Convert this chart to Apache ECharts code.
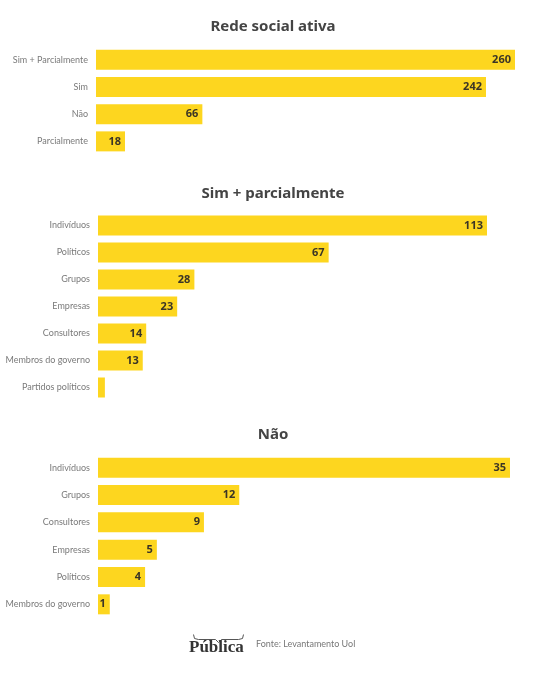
<!DOCTYPE html>
<html>
<head>
<meta charset="utf-8">
<script src="https://cdn.jsdelivr.net/npm/echarts@6/dist/echarts.min.js"></script>
<style>
  html, body { margin: 0; padding: 0; background: #fff; }
  #chart { width: 546px; height: 677px; }
</style>
</head>
<body>
<div id="chart"></div>
<script>
// dados
var redeCats = ['Sim + Parcialmente', 'Sim', 'Não', 'Parcialmente'];
var redeVals = [260, 242, 66, 18];

var simCats = ['Indivíduos', 'Políticos', 'Grupos', 'Empresas', 'Consultores', 'Membros do governo', 'Partidos políticos'];
var simVals = [113, 67, 28, 23, 14, 13, 2];

var naoCats = ['Indivíduos', 'Grupos', 'Consultores', 'Empresas', 'Políticos', 'Membros do governo'];
var naoVals = [35, 12, 9, 5, 4, 1];

var titulos = ['Rede social ativa', 'Sim + parcialmente', 'Não'];
var fonte = 'Fonte: Levantamento Uol';

var amarelo = '#fdd61f';
var fam = 'Noto Sans';

var chart = echarts.init(document.getElementById('chart'));

function eixoX(idx, max) {
    return {
        gridIndex: idx, type: 'value', min: 0, max: max,
        show: false, splitLine: { show: false }
    };
}
function eixoY(idx, cats) {
    return {
        gridIndex: idx, type: 'category', data: cats, inverse: true,
        axisLine: { show: false }, axisTick: { show: false },
        axisLabel: { color: '#7a7a7a', fontSize: 9, fontFamily: 'Lato', margin: 8 }
    };
}
function serie(idx, vals) {
    return {
        type: 'bar', xAxisIndex: idx, yAxisIndex: idx,
        barWidth: 20,
        itemStyle: { color: amarelo },
        label: {
            show: true, position: 'insideRight', distance: 4,
            color: '#3b3526', fontSize: 11, fontWeight: 'bold', fontFamily: fam,
            formatter: function (p) { return p.value >= 5 || idx === 2 ? p.value : ''; }
        },
        data: vals
    };
}

var option = {
    animation: false,
    title: titulos.map(function (t, i) {
        return {
            text: t, left: 'center', top: [14, 181, 422][i],
            textStyle: { fontSize: 15, fontWeight: 'bold', color: '#444', fontFamily: fam }
        };
    }),
    grid: [
        { left: 96, right: 31, top: 46, height: 109, outerBoundsMode: 'none' },
        { left: 98, right: 59, top: 212, height: 189, outerBoundsMode: 'none' },
        { left: 98, right: 36, top: 454, height: 164, outerBoundsMode: 'none' }
    ],
    xAxis: [eixoX(0, 260), eixoX(1, 113), eixoX(2, 35)],
    yAxis: [eixoY(0, redeCats), eixoY(1, simCats), eixoY(2, naoCats)],
    series: [serie(0, redeVals), serie(1, simVals), serie(2, naoVals)],
    graphic: [
        {
            type: 'polyline', left: 191, top: 632,
            shape: { points: [[0, 0], [1, 4], [5, 5], [22, 5], [25, 8], [28, 5], [45, 5], [49, 4], [50, 0]] },
            style: { fill: null, stroke: '#555', lineWidth: 1 }
        },
        {
            type: 'text', left: 189, top: 639,
            style: { text: 'Pública', font: 'bold 17px "Liberation Serif", "DejaVu Serif", serif', fill: '#333' }
        },
        {
            type: 'text', left: 256, top: 640,
            style: { text: fonte, font: '9px Lato', fill: '#777' }
        }
    ]
};

chart.setOption(option);
</script>
</body>
</html>
